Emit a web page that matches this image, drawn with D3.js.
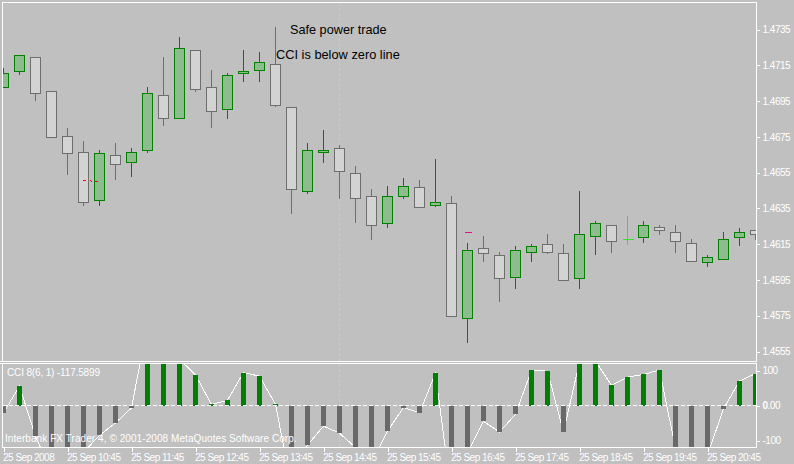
<!DOCTYPE html>
<html>
<head>
<meta charset="utf-8">
<script src="https://cdn.jsdelivr.net/npm/d3@7"></script>
<style>
    html, body { margin: 0; padding: 0; background: #c0c0c0; overflow: hidden; }
    text { font-family: "Liberation Sans", Arial, sans-serif; fill: #fff; font-size: 10px; }
</style>
</head>
<body>
<div id="chart"></div>
<script>
// candles, 25 Sep 2008
var opens = [1.47026,1.47115,1.47193,1.47003,1.46752,1.46662,1.46394,1.46646,1.46606,1.46674,1.46981,1.46852,
    1.47233,1.47026,1.46903,1.47104,1.47121,1.47154,1.46914,1.46444,1.46662,1.46685,1.46545,1.46416,
    1.46266,1.46416,1.46467,1.46366,1.46377,1.45735,1.46126,1.46087,1.45964,1.46103,1.46148,1.46098,
    1.45958,1.46193,1.46254,1.46176,1.46187,1.46243,1.46215,1.46154,1.46048,1.46064,1.46187,1.46226];
var highs = [1.47135,1.47205,1.47193,1.47003,1.46799,1.46727,1.46676,1.46716,1.46688,1.47029,1.47196,1.47308,
    1.47233,1.47124,1.47107,1.47235,1.47224,1.47364,1.46914,1.46716,1.46788,1.46704,1.46587,1.46458,
    1.46475,1.46520,1.46509,1.46626,1.46419,1.46157,1.46196,1.46106,1.46140,1.46151,1.46207,1.46151,
    1.46447,1.46280,1.46254,1.46307,1.46280,1.46257,1.46257,1.46179,1.46089,1.46218,1.46240,1.46226];
var lows = [1.47026,1.47093,1.46953,1.46746,1.46534,1.46366,1.46366,1.46506,1.46523,1.46657,1.46813,1.46852,
    1.47003,1.46802,1.46852,1.47054,1.47054,1.46914,1.46316,1.46433,1.46606,1.46405,1.46266,1.46176,
    1.46238,1.46405,1.46355,1.46355,1.45746,1.45595,1.46048,1.45824,1.45897,1.46048,1.46095,1.45947,
    1.45897,1.46087,1.46103,1.46148,1.46154,1.46204,1.46103,1.46053,1.46025,1.46064,1.46137,1.46173];
var closes = [1.47104,1.47205,1.46992,1.46746,1.46657,1.46383,1.46657,1.46595,1.46662,1.46992,1.46852,1.47244,
    1.47015,1.46892,1.47093,1.47115,1.47166,1.46925,1.46456,1.46674,1.46674,1.46556,1.46405,1.46254,
    1.46416,1.46472,1.46355,1.46383,1.45746,1.46115,1.46098,1.45958,1.46115,1.46137,1.46103,1.45947,
    1.46204,1.46266,1.46165,1.46176,1.46254,1.46226,1.46165,1.46053,1.46075,1.46176,1.46215,1.46204];

var cciValues = [-21,55,-88,-191,-170,-134,-85,-50,-7,232,180,132,87,3,15,94,84,3,-231,-113,-59,-79,-120,-164,
    -73,-6,-21,92,-259,-136,-45,-76,-25,101,98,-76,125,127,58,81,89,101,-122,-150,-141,-10,70,91];

var priceTicks = [1.4735,1.4715,1.4695,1.4675,1.4655,1.4635,1.4615,1.4595,1.4575,1.4555];
var cciTicks = [100,0,-100];
var timeLabels = ["25 Sep 2008","25 Sep 10:45","25 Sep 11:45","25 Sep 12:45","25 Sep 13:45","25 Sep 14:45",
    "25 Sep 15:45","25 Sep 16:45","25 Sep 17:45","25 Sep 18:45","25 Sep 19:45","25 Sep 20:45"];

// the little dashed signal lines
var redLine = [[5,1.46506],[6,1.46500]];
var pinkMark = [29,1.46215];
var cursorBar = 21;

var svg = d3.select("#chart").append("svg")
    .attr("width", 794)
    .attr("height", 464)
    .style("display", "block");

var x = d3.scaleLinear().domain([0, 47]).range([3.5, 755.5]);
var y = d3.scaleLinear().domain([1.4735, 1.4555]).range([29.5, 351.5]);
var yCci = d3.scaleLinear().domain([100, -100]).range([370.5, 440.5]);

function snap(v) { return Math.round(v - 0.5) + 0.5; }

var defs = svg.append("defs");
defs.append("clipPath").attr("id", "mainClip").append("rect")
    .attr("x", 3).attr("y", 3).attr("width", 753).attr("height", 358);
defs.append("clipPath").attr("id", "subClip").append("rect")
    .attr("x", 3).attr("y", 364).attr("width", 753).attr("height", 83);

// cursor line, behind the candles
var cursor = svg.append("g")
    .attr("stroke", "#ffd700")
    .attr("stroke-dasharray", "3,2")
    .attr("shape-rendering", "crispEdges");
cursor.append("line")
    .attr("x1", x(cursorBar)).attr("x2", x(cursorBar))
    .attr("y1", 3).attr("y2", 361);
cursor.append("line")
    .attr("x1", x(cursorBar)).attr("x2", x(cursorBar))
    .attr("y1", 364).attr("y2", 447);

var main = svg.append("g")
    .attr("clip-path", "url(#mainClip)")
    .attr("shape-rendering", "crispEdges");

var candles = main.selectAll("g.candle")
    .data(opens.map(function(d, i) { return i; }))
    .enter()
    .append("g")
    .classed("candle", true);

function candleStroke(i) {
    if (i == 39) return "#33e033";
    return closes[i] > opens[i] ? "#008000" : "#6e6e6e";
}

candles.append("line")
    .attr("x1", function(i) { return x(i); })
    .attr("x2", function(i) { return x(i); })
    .attr("y1", function(i) { return y(highs[i]); })
    .attr("y2", function(i) { return y(lows[i]); })
    .attr("stroke", candleStroke);

candles.filter(function(i) { return i != 39; })
    .append("rect")
    .attr("x", function(i) { return x(i) - 5; })
    .attr("width", 10)
    .attr("y", function(i) { return snap(y(Math.max(opens[i], closes[i]))); })
    .attr("height", function(i) {
        return snap(y(Math.min(opens[i], closes[i]))) - snap(y(Math.max(opens[i], closes[i])));
    })
    .attr("fill", function(i) { return closes[i] > opens[i] ? "#8fbc8f" : "#d3d3d3"; })
    .attr("stroke", candleStroke);

// doji has only the cross bar
main.append("line")
    .attr("x1", x(39) - 5).attr("x2", x(39) + 6)
    .attr("y1", snap(y(opens[39]))).attr("y2", snap(y(opens[39])))
    .attr("stroke", "#33e033");

main.append("line")
    .attr("x1", x(redLine[0][0])).attr("x2", x(redLine[1][0]))
    .attr("y1", y(redLine[0][1])).attr("y2", y(redLine[1][1]))
    .attr("stroke", "#ff0000")
    .attr("stroke-dasharray", "3,3");

main.append("line")
    .attr("x1", x(pinkMark[0]) - 3).attr("x2", x(pinkMark[0]) + 4)
    .attr("y1", snap(y(pinkMark[1]))).attr("y2", snap(y(pinkMark[1])))
    .attr("stroke", "#e0108a");

// indicator window, the bars sit over the line
var sub = svg.append("g").attr("clip-path", "url(#subClip)");

var cciLine = d3.line()
    .x(function(d, i) { return x(i); })
    .y(function(d) { return yCci(d); });

sub.append("path")
    .attr("d", cciLine(cciValues))
    .attr("fill", "none")
    .attr("stroke", "#fff")
    .attr("stroke-width", 1)
    .attr("shape-rendering", "crispEdges");

sub.selectAll("rect.cciBar")
    .data(cciValues)
    .enter()
    .append("rect")
    .classed("cciBar", true)
    .attr("shape-rendering", "crispEdges")
    .attr("x", function(d, i) { return Math.floor(x(i)) - 2; })
    .attr("width", 5)
    .attr("y", function(d) { return d > 0 ? yCci(d) : yCci(0); })
    .attr("height", function(d) { return Math.abs(yCci(d) - yCci(0)); })
    .attr("fill", function(d) { return d > 0 ? "#008000" : "#696969"; });

sub.append("line")
    .attr("x1", 3).attr("x2", 756)
    .attr("y1", yCci(0)).attr("y2", yCci(0))
    .attr("stroke", "#fff")
    .attr("stroke-dasharray", "4,2")
    .attr("shape-rendering", "crispEdges");

// frames
var frame = svg.append("g")
    .attr("fill", "none")
    .attr("stroke", "#fff")
    .attr("shape-rendering", "crispEdges");
frame.append("path").attr("d", "M2.5,361.5V2.5H756.5V361.5");
frame.append("path").attr("d", "M0,361.5H756.5");
frame.append("path").attr("d", "M2.5,447.5V363.5H756.5V447.5H2.5");
frame.append("path").attr("d", "M0,363.5H2.5");

// price axis
var yAxis = d3.axisRight(y)
    .tickValues(priceTicks)
    .tickFormat(d3.format(".4f"))
    .tickSize(3)
    .tickPadding(3);
var yAxisG = svg.append("g")
    .attr("transform", "translate(756.5,0)")
    .call(yAxis);

var cciAxis = d3.axisRight(yCci)
    .tickValues(cciTicks)
    .tickFormat(function(d) { return d == 0 ? "0.00" : d; })
    .tickSize(3)
    .tickPadding(3);
var cciAxisG = svg.append("g")
    .attr("transform", "translate(756.5,0)")
    .call(cciAxis);

// time axis, one label per four bars
var xAxis = d3.axisBottom(x)
    .tickValues(timeLabels.map(function(d, i) { return i * 4; }))
    .tickFormat(function(d) { return timeLabels[d / 4]; })
    .tickSize(4)
    .tickPadding(2);
var xAxisG = svg.append("g")
    .attr("transform", "translate(0,447.5)")
    .call(xAxis);

[yAxisG, cciAxisG, xAxisG].forEach(function(g) {
    g.attr("font-family", null).attr("font-size", null);
    g.select(".domain").remove();
    g.selectAll("line").attr("stroke", "#fff").attr("shape-rendering", "crispEdges");
    g.selectAll("text").attr("fill", "#fff").style("letter-spacing", "-0.5px");
});
xAxisG.selectAll("text").attr("text-anchor", "start").attr("dx", -1);

// the 0 of the zero label looks bold in the terminal
var zeroLabel = cciAxisG.selectAll(".tick")
    .filter(function(d) { return d == 0; })
    .select("text")
    .text(null);
zeroLabel.append("tspan").style("font-weight", "bold").text("0");
zeroLabel.append("tspan").text(".00");

svg.append("text")
    .attr("x", 7).attr("y", 376)
    .style("letter-spacing", "-0.15px")
    .text("CCI 8(6, 1) -117.5899");

svg.append("text")
    .attr("x", 5).attr("y", 442)
    .style("letter-spacing", "0.07px")
    .text("Interbank FX Trader 4, © 2001-2008 MetaQuotes Software Corp.");

svg.append("text")
    .attr("x", 290).attr("y", 34)
    .style("fill", "#000").style("font-size", "12.7px")
    .text("Safe power trade");

svg.append("text")
    .attr("x", 276).attr("y", 59)
    .style("fill", "#000").style("font-size", "12.8px")
    .text("CCI is below zero line");
</script>
</body>
</html>
